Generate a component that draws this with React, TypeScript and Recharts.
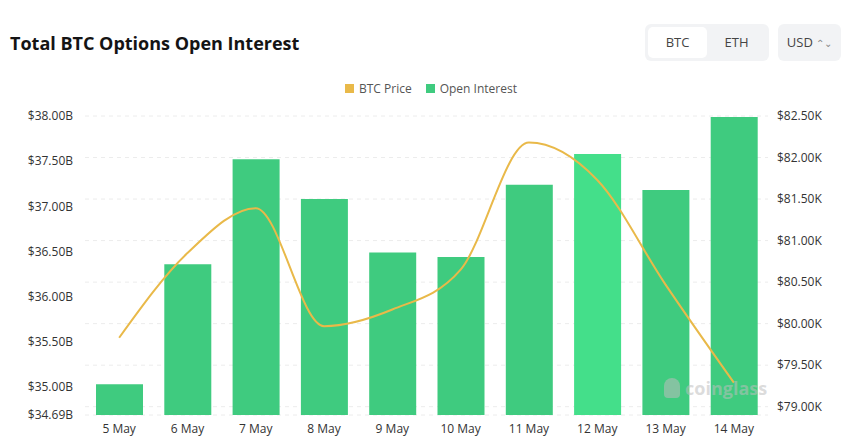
import React from 'react';
import { ComposedChart, Bar, Line, XAxis, YAxis, CartesianGrid, Cell } from 'recharts';

const days = ['5 May', '6 May', '7 May', '8 May', '9 May', '10 May', '11 May', '12 May', '13 May', '14 May'];
// open interest, billions USD
const openInterest = [35.03, 36.36, 37.52, 37.08, 36.49, 36.44, 37.24, 37.58, 37.18, 37.99];
// BTC price, USD
const btcPrice = [79830, 80850, 81390, 79970, 80170, 80650, 82180, 81730, 80470, 79290];

const oiTicks = [34.69, 35, 35.5, 36, 36.5, 37, 37.5, 38];
const priceTicks = [79000, 79500, 80000, 80500, 81000, 81500, 82000, 82500];
const highlighted = 7;

const data = days.map((day, i) => ({ day, oi: openInterest[i], price: btcPrice[i] }));

const font = '"Open Sans", "Noto Sans", sans-serif';
const tickStyle = { fontSize: 12, fill: '#333', fontFamily: font };

const Swatch = ({ color }: { color: string }) => (
  <span style={{ display: 'inline-block', width: 9, height: 9, background: color, marginRight: 5 }} />
);

export default function App() {
  return (
    <div style={{ position: 'relative', width: 848, height: 439, background: '#fff', fontFamily: font }}>
      <style>{'body{margin:0}'}</style>
      <div style={{ position: 'absolute', left: 10, top: 31, fontSize: 18, fontWeight: 700, color: '#141414' }}>
        Total BTC Options Open Interest
      </div>

      <div style={{ position: 'absolute', left: 645, top: 24, width: 124, height: 37, background: '#f2f3f5', borderRadius: 6, boxSizing: 'border-box' }}>
        <div style={{ position: 'absolute', left: 3, top: 3, width: 59, height: 31, background: '#fff', borderRadius: 5, fontSize: 13, color: '#444', lineHeight: '31px', textAlign: 'center' }}>BTC</div>
        <div style={{ position: 'absolute', left: 62, top: 3, width: 59, height: 31, fontSize: 13, color: '#444', lineHeight: '31px', textAlign: 'center' }}>ETH</div>
      </div>
      <div style={{ position: 'absolute', left: 778, top: 24, width: 63, height: 37, background: '#f2f3f5', borderRadius: 6, fontSize: 13, color: '#444', lineHeight: '37px', textAlign: 'center' }}>
        USD <span style={{ fontSize: 10, color: '#888' }}>⌃⌄</span>
      </div>

      <div style={{ position: 'absolute', left: 345, top: 80, fontSize: 12, color: '#555', display: 'flex', alignItems: 'center' }}>
        <Swatch color="#e9b949" />
        <span style={{ marginRight: 14 }}>BTC Price</span>
        <Swatch color="#3fcb7f" />
        <span>Open Interest</span>
      </div>

      <div style={{ position: 'absolute', left: 0, top: 0 }}>
        <ComposedChart width={848} height={439} data={data} margin={{ top: 116, right: 0, bottom: 0, left: 0 }}>
          <CartesianGrid vertical={false} yAxisId="right" stroke="#ececec" strokeDasharray="4 4" />
          <XAxis dataKey="day" axisLine={false} tickLine={false} tickSize={0} tickMargin={9} height={24} tick={tickStyle} interval={0} />
          <YAxis
            yAxisId="left"
            orientation="left"
            width={85}
            domain={[34.69, 38]}
            ticks={oiTicks}
            axisLine={false}
            tickLine={false}
            tickSize={0}
            tickMargin={12}
            tick={tickStyle}
            tickFormatter={(v: number) => `$${v.toFixed(2)}B`}
          />
          <YAxis
            yAxisId="right"
            orientation="right"
            width={80}
            domain={[78900, 82500]}
            ticks={priceTicks}
            axisLine={false}
            tickLine={false}
            tickSize={0}
            tickMargin={9}
            tick={{ ...tickStyle, textAnchor: 'start' }}
            tickFormatter={(v: number) => `$${(v / 1000).toFixed(2)}K`}
          />
          <Bar yAxisId="left" dataKey="oi" barSize={47} isAnimationActive={false}>
            {data.map((d, i) => (
              <Cell key={d.day} fill={i === highlighted ? '#44df8a' : '#3fcb7f'} />
            ))}
          </Bar>
          <Line yAxisId="right" type="monotone" dataKey="price" stroke="#e9b949" strokeWidth={2} dot={false} isAnimationActive={false} />
        </ComposedChart>
      </div>

      <div style={{ position: 'absolute', left: 664, top: 376, display: 'flex', alignItems: 'center', color: 'rgba(190,190,190,0.55)', fontSize: 18, fontWeight: 700, pointerEvents: 'none' }}>
        <span style={{ display: 'inline-block', width: 16, height: 20, borderRadius: '8px 8px 4px 4px', background: 'rgba(190,190,190,0.55)', marginRight: 5 }} />
        coinglass
      </div>
    </div>
  );
}
